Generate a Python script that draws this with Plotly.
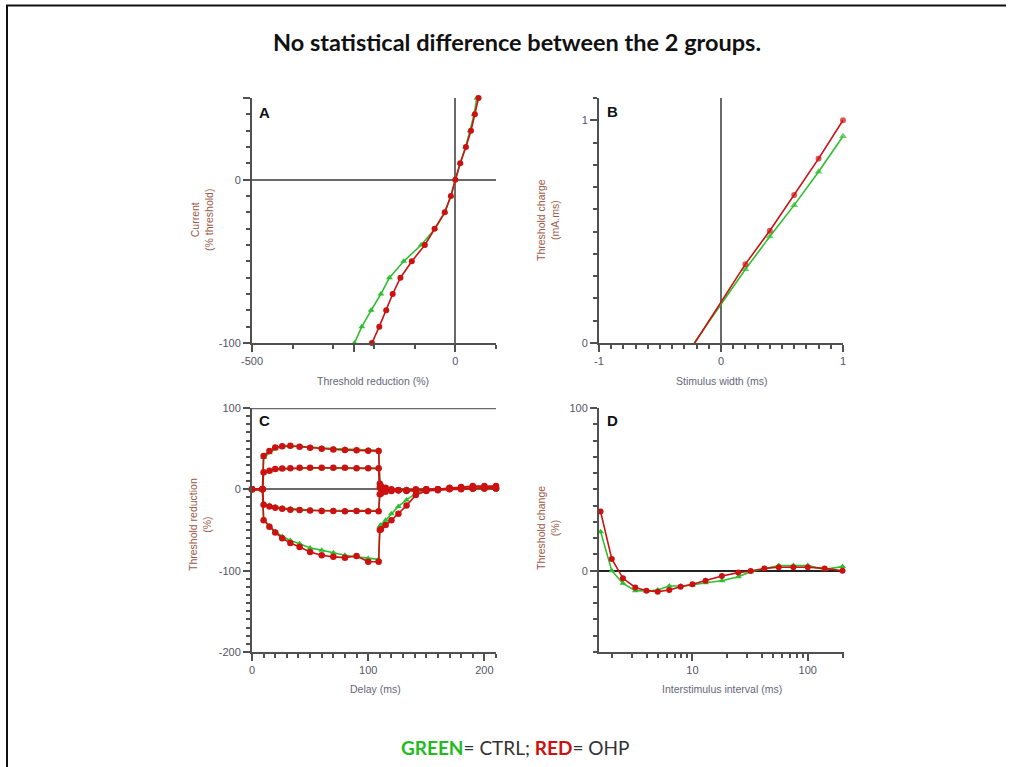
import math
import plotly.graph_objects as go

W, H = 1011, 767
RED = "#cc1111"
GREEN = "#2ebf2e"
AX = "#505050"
FONT = "Liberation Sans, Arial, sans-serif"
TICKC = "#555566"
YTC = "#9a5a48"
XTC = "#66667a"

# ---------------- Panel A : current / threshold ----------------
a_current = [50, 40, 30, 20, 10, 0, -10, -20, -30, -40, -50, -60, -70, -80, -90, -100]
a_thr_ctrl = [53, 46, 36, 25, 12, 0, -11, -26, -50, -84, -127, -162, -183, -207, -230, -248]
a_thr_ohp = [57, 48, 38.5, 26, 12, 0, -11, -26, -51, -75, -107, -135, -154, -170, -187, -205]

# ---------------- Panel B : charge / duration ----------------
b_width = [0.2, 0.4, 0.6, 0.8, 1.0]
b_charge_ctrl = [0.331, 0.478, 0.619, 0.769, 0.928]
b_charge_ohp = [0.354, 0.504, 0.664, 0.828, 1.0]
b_xint_ctrl = -0.22
b_xint_ohp = -0.215

# ---------------- Panel C : threshold electrotonus ----------------
c_delay = [0, 9, 10, 15, 20, 26, 33, 41, 50, 60, 70, 80, 90, 100, 109,
           110, 111, 115, 120, 126, 133, 141, 150, 160, 170, 180, 190, 200, 210]
c_ted40_ohp = [0, 0, 41, 47, 51.5, 53, 53.5, 52.5, 51, 50, 49, 48.5, 48, 47.5, 47,
               7, 4, 2, 0, -1, -2, -2, -1, 0, 2, 3, 4, 4, 4]
c_ted40_ctrl = [0, 0, 39, 45, 50, 52.5, 53, 52.5, 51.5, 50.5, 50, 49.5, 49, 48.5, 48,
                5, 3, 1, 0, -1, -1, -1, -1, 0, 1, 2, 3, 3, 3]
c_ted20_ohp = [0, 0, 21, 23, 25, 25.5, 26, 26.5, 26.5, 26.5, 26.5, 26.5, 26, 26, 26,
               2, 1, 0, -1, -1, -1, -1, 0, 0, 1, 1, 1, 1, 1]
c_ted20_ctrl = [0, 0, 20, 22, 24, 25, 25.5, 26, 26, 26, 26, 26, 25.5, 25.5, 25.5,
                1, 0, -1, -1, -1, -1, 0, 0, 0, 1, 1, 1, 1, 1]
c_teh20_ohp = [0, 0, -19, -21, -22.5, -24, -25, -25.5, -26, -26.5, -26.5, -27, -26.5, -27, -27,
               -6, -5, -3, -2, -1, -1, 0, 0, 0, 1, 1, 1, 2, 2]
c_teh20_ctrl = [0, 0, -18, -20, -21.5, -23, -24, -25, -25.5, -26, -26, -26, -26, -26, -26,
                -5, -4, -2, -1, -1, 0, 0, 0, 0, 1, 1, 1, 1, 2]
c_teh40_ohp = [0, 0, -38, -46, -53, -60, -66, -71, -77, -81, -83, -84, -82, -89, -89,
               -50, -49, -44, -38, -30, -20, -7, -2, -1, 0, 0, 1, 1, 1]
c_teh40_ctrl = [0, 0, -37, -45, -52, -58, -63, -67, -72, -75, -78, -81, -83, -85, -86,
                -45, -44, -38, -30, -21, -13, -5, -1, 0, 0, 1, 1, 1, 1]

# ---------------- Panel D : recovery cycle ----------------
d_isi = [1.6, 2, 2.5, 3.2, 4, 5, 6.3, 7.9, 10, 13, 18, 25, 32, 42, 56, 75, 100, 140, 200]
d_ohp = [36.3, 7.2, -4.7, -10.3, -12.3, -12.9, -11.9, -9.9, -8.4, -6.2, -3.3, -1.2, -0.2,
         1.4, 2.1, 2.1, 2.1, 1.4, 0]
d_ctrl = [24, 0, -7.8, -12.3, -12.5, -11.9, -9.4, -9.4, -8.8, -7.4, -6.2, -3.7, -0.6,
          1.4, 3.1, 3.1, 3.1, 0.8, 2.5]

# tick labels
a_xticks, a_xlabels = [-500, -250, 0], ["-500", "", "0"]
a_yticks, a_ylabels = [-100, -50, 0, 50], ["-100", "", "0", ""]
b_xticks, b_xlabels = [-1, -0.5, 0, 0.5, 1], ["-1", "", "0", "", "1"]
b_yticks, b_ylabels = [0, 0.5, 1], ["0", "", "1"]
c_xticks, c_xlabels = [0, 50, 100, 150, 200], ["0", "", "100", "", "200"]
c_yticks, c_ylabels = [-200, -150, -100, -50, 0, 50, 100], ["-200", "", "-100", "", "0", "", "100"]
d_xticks, d_xlabels = [10, 100], ["10", "100"]
d_yticks, d_ylabels = [0, 50, 100], ["0", "", "100"]

fig = go.Figure()


def line_trace(x, y, color, symbol, size, xa, ya, msizes=None):
    return go.Scatter(
        x=x, y=y, mode="lines+markers", xaxis=xa, yaxis=ya,
        line=dict(color=color, width=1.6),
        marker=dict(color=color, symbol=symbol, size=msizes if msizes is not None else size,
                    line=dict(width=0)),
        cliponaxis=False, showlegend=False, hoverinfo="skip")


# A
fig.add_trace(line_trace(a_thr_ctrl, a_current, GREEN, "triangle-up", 6, "x", "y"))
fig.add_trace(line_trace(a_thr_ohp, a_current, RED, "circle", 6, "x", "y"))
# B
fig.add_trace(line_trace([b_xint_ctrl] + b_width, [0] + b_charge_ctrl, GREEN, "triangle-up", 7,
                         "x2", "y2", msizes=[0] + [7] * len(b_width)))
fig.add_trace(line_trace([b_xint_ohp] + b_width, [0] + b_charge_ohp, RED, "circle", 6,
                         "x2", "y2", msizes=[0] + [6] * len(b_width)))
# C
c_pairs = [(c_ted40_ctrl, c_ted40_ohp), (c_ted20_ctrl, c_ted20_ohp),
           (c_teh20_ctrl, c_teh20_ohp), (c_teh40_ctrl, c_teh40_ohp)]
for yc, yo in c_pairs:
    fig.add_trace(line_trace(c_delay, yc, GREEN, "triangle-up", 6, "x3", "y3"))
for yc, yo in c_pairs:
    fig.add_trace(line_trace(c_delay, yo, RED, "circle", 6.5, "x3", "y3"))
# D
fig.add_trace(line_trace(d_isi, d_ctrl, GREEN, "triangle-up", 6, "x4", "y4"))
fig.add_trace(line_trace(d_isi, d_ohp, RED, "circle", 6, "x4", "y4"))


def px(x):
    return x / W


def py(y):
    return 1 - y / H


def axis(domain, rng, tickvals, ticktext, minor_vals, anchor, zeroline=False, zc="#6a6a6a",
         zw=2, typ="linear"):
    return dict(
        domain=domain, range=rng, type=typ, anchor=anchor, automargin=False,
        showline=True, linecolor=AX, linewidth=2, mirror=False,
        ticks="outside", tickcolor=AX, tickwidth=2, ticklen=7,
        tickmode="array", tickvals=tickvals, ticktext=ticktext,
        tickfont=dict(size=11, color=TICKC, family=FONT),
        minor=dict(tickmode="array", tickvals=minor_vals, ticks="outside",
                   ticklen=4, tickwidth=1.8, tickcolor=AX, showgrid=False),
        showgrid=False, zeroline=zeroline, zerolinecolor=zc, zerolinewidth=zw,
        fixedrange=True)


xA = [px(252), px(496)]
xB = [px(599), px(843)]
yTop = [py(343), py(98)]
yBot = [py(652), py(408)]

a_xminor = [-400, -300, -200, -100, 100]
a_yminor = [v for v in range(-90, 50, 10)]
b_xminor = [round(-1 + 0.1 * i, 1) for i in range(21)]
b_yminor = [round(0.1 * i, 1) for i in range(12)]
c_xminor = list(range(0, 211, 10))
c_yminor = list(range(-200, 101, 10))
d_xminor = [2, 3, 4, 5, 6, 7, 8, 9, 20, 30, 40, 50, 60, 70, 80, 90, 200]
d_yminor = list(range(-50, 101, 10))

fig.update_layout(
    width=W, height=H, autosize=False,
    margin=dict(l=0, r=0, t=0, b=0, pad=0, autoexpand=False),
    paper_bgcolor="white", plot_bgcolor="white", showlegend=False,
    xaxis=axis(xA, [-500, 100], a_xticks, a_xlabels, a_xminor, "y", zeroline=True),
    yaxis=axis(yTop, [-100, 50], a_yticks, a_ylabels, a_yminor, "x", zeroline=True),
    xaxis2=axis(xB, [-1, 1], b_xticks, b_xlabels, b_xminor, "y2", zeroline=True),
    yaxis2=axis(yTop, [0, 1.1], b_yticks, b_ylabels, b_yminor, "x2"),
    xaxis3=axis(xA, [0, 210], c_xticks, c_xlabels, c_xminor, "y3"),
    yaxis3=axis(yBot, [-200, 100], c_yticks, c_ylabels, c_yminor, "x3", zeroline=True),
    xaxis4=axis([px(599), px(844)], [math.log10(1.55), math.log10(206)], d_xticks, d_xlabels,
                d_xminor, "y4", typ="log"),
    yaxis4=axis(yBot, [-50, 100], d_yticks, d_ylabels, d_yminor, "x4", zeroline=True,
                zc="#222222", zw=1.6),
)

# top reference line in panel C at 100
fig.add_shape(type="line", xref="x3", yref="y3", x0=0, x1=210, y0=100, y1=100,
              line=dict(color="#6a6a6a", width=2.5), layer="below")

# page frame
fig.add_shape(type="line", xref="paper", yref="paper", x0=px(6), x1=px(1006), y0=py(5.5),
              y1=py(5.5), line=dict(color="#111111", width=2))
fig.add_shape(type="line", xref="paper", yref="paper", x0=px(7), x1=px(7), y0=0, y1=py(5.5),
              line=dict(color="#111111", width=2))

ann = []


def text(x, y, t, size, color, angle=0, family=FONT):
    ann.append(dict(x=px(x), y=py(y), xref="paper", yref="paper", text=t, showarrow=False,
                    xanchor="center", yanchor="middle", textangle=angle,
                    font=dict(size=size, color=color, family=family)))


text(517, 42, "<b>No statistical difference between the 2 groups.</b>", 23.5, "#111111",
     family="Lato, Open Sans, sans-serif")
text(515, 747, "<b><span style='color:#22bb22'>GREEN</span></b>= CTRL; "
     "<b><span style='color:#cc1111'>RED</span></b>= OHP", 19, "#333333",
     family="Lato, Open Sans, sans-serif")

# panel letters
for (x, y, t) in [(264, 113, "A"), (612, 112, "B"), (264, 420, "C"), (612, 420, "D")]:
    text(x, y, "<b>" + t + "</b>", 15, "#111111")

# axis titles
text(202, 220, "Current<br>(% threshold)", 10.5, YTC, angle=-90)
text(373, 381, "Threshold reduction (%)", 10.5, XTC)
text(548, 220, "Threshold charge<br>(mA.ms)", 10.5, YTC, angle=-90)
text(722, 381, "Stimulus width (ms)", 10.5, XTC)
text(200, 525, "Threshold reduction<br>(%)", 10.5, YTC, angle=-90)
text(375, 689, "Delay (ms)", 10.5, XTC)
text(548, 528, "Threshold change<br>(%)", 10.5, YTC, angle=-90)
text(722, 689, "Interstimulus interval (ms)", 10.5, XTC)

fig.update_layout(annotations=ann)
fig.write_html("out.html")
